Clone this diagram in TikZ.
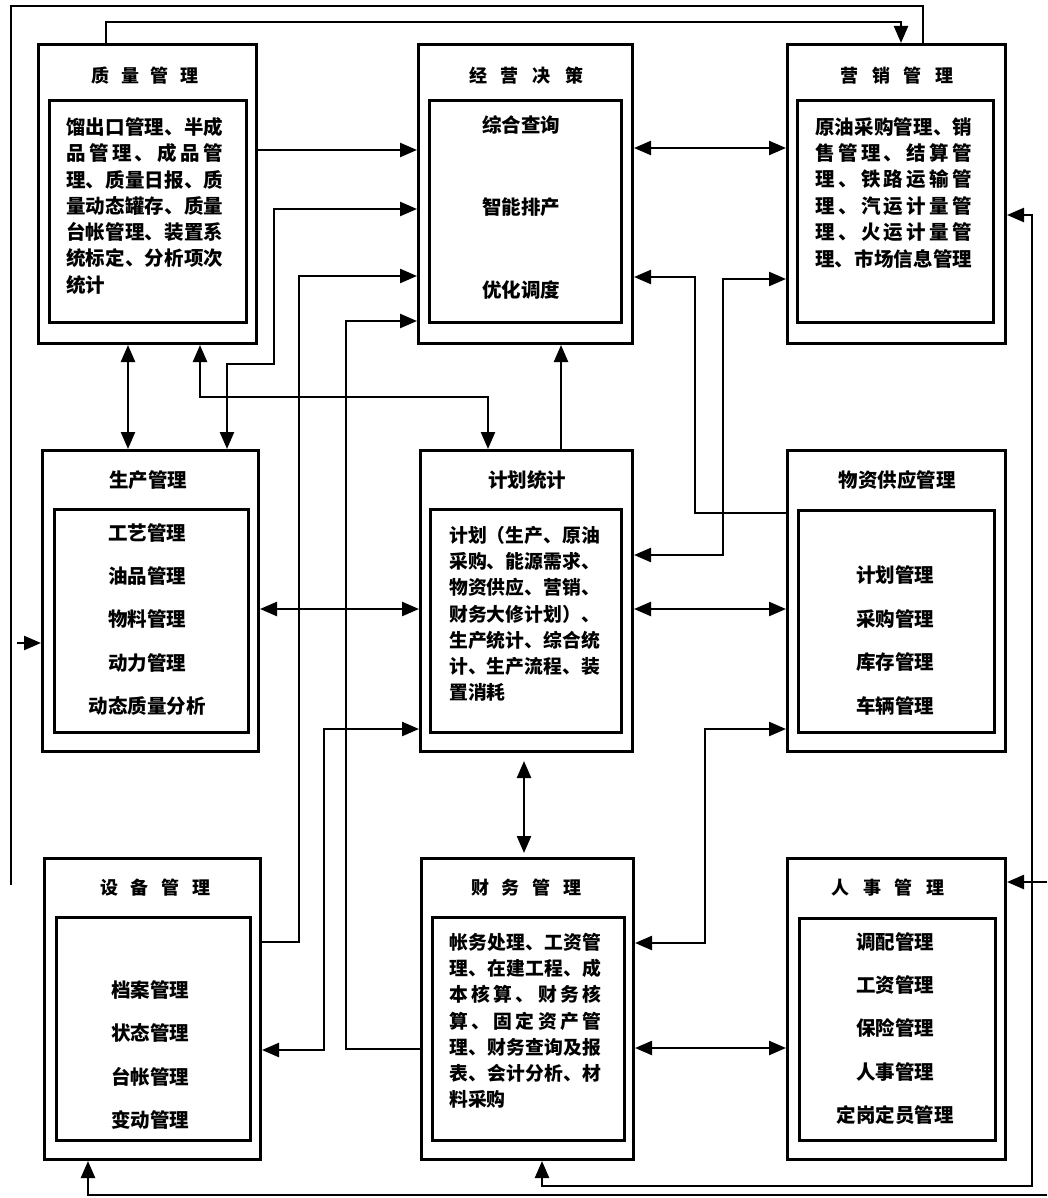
\documentclass[tikz,border=0pt]{standalone}
\usepackage{fontspec}
\setmainfont{Noto Sans CJK SC}
\usetikzlibrary{arrows.meta}
\def\jsp#1{\ifx#1\relax\else#1\hskip0pt plus 1fil\relax\expandafter\jsp\fi}
\newcommand\jl[2]{\makebox[#1][s]{\jsp#2\relax\unskip}}
\begin{document}
\begin{tikzpicture}[x=1pt,y=-1pt,
  obox/.style={draw, line width=3pt, anchor=north west, inner sep=0pt},
  ttl/.style={inner sep=0pt, font=\fontsize{18}{20}\selectfont\bfseries},
  itm/.style={inner sep=0pt, font=\fontsize{19.5}{22}\selectfont\bfseries},
  par/.style={inner sep=0pt, anchor=west, font=\fontsize{19.5}{22}\selectfont\bfseries},
  pars/.style={inner sep=0pt, anchor=west, font=\fontsize{18.8}{22}\selectfont\bfseries},
  conn/.style={line width=2.4pt},
  arr/.style={conn, -{Triangle[length=17pt,width=14pt]}},
  darr/.style={conn, {Triangle[length=17pt,width=14pt]}-{Triangle[length=17pt,width=14pt]}}]
\fill[white] (0,0) rectangle (1047,1198);
\useasboundingbox (0,0) rectangle (1047,1198);
% boxes
\node[obox, minimum width=218pt, minimum height=299pt] (q) at (37,43) {};
\node[obox, minimum width=197pt, minimum height=222pt] (qi) at (48,99) {};
\node[obox, minimum width=214pt, minimum height=299pt] (j) at (417,43) {};
\node[obox, minimum width=192pt, minimum height=222pt] (ji) at (428,99) {};
\node[obox, minimum width=218pt, minimum height=299pt] (m) at (786,43) {};
\node[obox, minimum width=196pt, minimum height=222pt] (mi) at (796,99) {};
\node[obox, minimum width=216pt, minimum height=301pt] (p) at (41,449) {};
\node[obox, minimum width=194pt, minimum height=223pt] (pi) at (53,508) {};
\node[obox, minimum width=212pt, minimum height=301pt] (pl) at (419,449) {};
\node[obox, minimum width=191pt, minimum height=223pt] (pli) at (429,508) {};
\node[obox, minimum width=218pt, minimum height=301pt] (s) at (786,449) {};
\node[obox, minimum width=196pt, minimum height=222pt] (si) at (797,509) {};
\node[obox, minimum width=216pt, minimum height=301pt] (e) at (43,857) {};
\node[obox, minimum width=194pt, minimum height=223pt] (ei) at (55,916) {};
\node[obox, minimum width=212pt, minimum height=301pt] (f) at (420,857) {};
\node[obox, minimum width=192pt, minimum height=223pt] (fi) at (431,916) {};
\node[obox, minimum width=218pt, minimum height=301pt] (h) at (786,857) {};
\node[obox, minimum width=196pt, minimum height=222pt] (hi) at (798,917) {};
% titles
\node[ttl] (qt) at (145,76) {\jl{107pt}{质量管理}};
\node[ttl] (jt) at (526,76) {\jl{114pt}{经营决策}};
\node[ttl] (mt) at (897,76) {\jl{113pt}{营销管理}};
\node[itm] (pt) at (148,480) {生产管理};
\node[itm] (plt) at (527,480) {计划统计};
\node[itm] (st) at (897,480) {物资供应管理};
\node[ttl] (et) at (155,888) {\jl{110pt}{设备管理}};
\node[ttl] (ft) at (526,888) {\jl{110pt}{财务管理}};
\node[ttl] (ht) at (888,888) {\jl{113pt}{人事管理}};
% quality text
\node[par] (q1) at (66,127) {\jl{157pt}{馏出口管理、半成}};
\node[par] (q2) at (66,153.3) {\jl{157pt}{品管理、成品管}};
\node[par] (q3) at (66,179.6) {\jl{157pt}{理、质量日报、质}};
\node[par] (q4) at (66,205.9) {\jl{157pt}{量动态罐存、质量}};
\node[par] (q5) at (66,232.2) {\jl{157pt}{台帐管理、装置系}};
\node[par] (q6) at (66,258.5) {\jl{157pt}{统标定、分析项次}};
\node[par] (q7) at (66,284.8) {统计};
% decision items
\node[itm] (j1) at (521,125) {综合查询};
\node[itm] (j2) at (521,207) {智能排产};
\node[itm] (j3) at (521,290) {优化调度};
% marketing text
\node[par] (m1) at (815,127) {\jl{157pt}{原油采购管理、销}};
\node[par] (m2) at (815,153.3) {\jl{157pt}{售管理、结算管}};
\node[par] (m3) at (815,179.6) {\jl{157pt}{理、铁路运输管}};
\node[par] (m4) at (815,205.9) {\jl{157pt}{理、汽运计量管}};
\node[par] (m5) at (815,232.2) {\jl{157pt}{理、火运计量管}};
\node[par] (m6) at (815,258.5) {\jl{157pt}{理、市场信息管理}};
% production items
\node[itm] (p1) at (147,533) {工艺管理};
\node[itm] (p2) at (147,576) {油品管理};
\node[itm] (p3) at (147,619) {物料管理};
\node[itm] (p4) at (147,663) {动力管理};
\node[itm] (p5) at (147,706) {动态质量分析};
% plan text
\node[pars] (l1) at (449,535) {\jl{151pt}{计划（生产、原油}};
\node[pars] (l2) at (449,561.3) {\jl{151pt}{采购、能源需求、}};
\node[pars] (l3) at (449,587.6) {\jl{151pt}{物资供应、营销、}};
\node[pars] (l4) at (449,613.9) {\jl{151pt}{财务大修计划）、}};
\node[pars] (l5) at (449,640.2) {\jl{151pt}{生产统计、综合统}};
\node[pars] (l6) at (449,666.5) {\jl{151pt}{计、生产流程、装}};
\node[pars] (l7) at (449,692.8) {置消耗};
% supply items
\node[itm] (s1) at (895,575) {计划管理};
\node[itm] (s2) at (895,619) {采购管理};
\node[itm] (s3) at (895,662) {库存管理};
\node[itm] (s4) at (895,706) {车辆管理};
% equipment items
\node[itm] (e1) at (150,990) {档案管理};
\node[itm] (e2) at (150,1033) {状态管理};
\node[itm] (e3) at (150,1077) {台帐管理};
\node[itm] (e4) at (150,1120) {变动管理};
% finance text
\node[pars] (f1) at (449,942) {\jl{152pt}{帐务处理、工资管}};
\node[pars] (f2) at (449,968.3) {\jl{152pt}{理、在建工程、成}};
\node[pars] (f3) at (449,994.6) {\jl{152pt}{本核算、财务核}};
\node[pars] (f4) at (449,1020.9) {\jl{152pt}{算、固定资产管}};
\node[pars] (f5) at (449,1047.2) {\jl{152pt}{理、财务查询及报}};
\node[pars] (f6) at (449,1073.5) {\jl{152pt}{表、会计分析、材}};
\node[pars] (f7) at (449,1099.8) {料采购};
% HR items
\node[itm] (h1) at (895,942) {调配管理};
\node[itm] (h2) at (895,985) {工资管理};
\node[itm] (h3) at (895,1028) {保险管理};
\node[itm] (h4) at (895,1072) {人事管理};
\node[itm] (h5) at (895,1115) {定岗定员管理};
% free ends
\coordinate (Lend) at (11,885);
\coordinate (Lstub) at (17,643);
\coordinate (Rbot) at (1047,1195);
\coordinate (Rhr) at (1047,882);
% connectors
\draw[conn] (m.north -| 923,0) |- (11,6) -- (Lend);
\draw[arr] (Lstub) -- (p.west |- Lstub);
\draw[arr] (q.north -| 106,0) |- (901,22) -- (m.north -| 901,0);
\draw[arr] (q.east |- 0,150) -- (j.west |- 0,150);
\draw[darr] (j.east |- 0,148) -- (m.west |- 0,148);
\draw[darr] (p.north -| 227,0) -- (227,364) -| (274,209) -- (j.west |- 0,209);
\draw[darr] (q.south -| 128,0) -- (p.north -| 128,0);
\draw[darr] (q.south -| 200,0) |- (488,397) -- (pl.north -| 488,0);
\draw[arr] (pl.north -| 561,0) -- (j.south -| 561,0);
\draw[arr] (e.east |- 0,942) -| (299,276) -- (j.west |- 0,276);
\draw[arr] (f.west |- 0,1049) -| (346,321) -- (j.west |- 0,321);
\draw[darr] (pl.west |- 0,729) -| (324,1050) -- (e.east |- 0,1050);
\draw[darr] (p.east |- 0,609) -- (pl.west |- 0,609);
\draw[arr] (s.west |- 0,513) -| (695,277) -- (j.east |- 0,277);
\draw[darr] (m.west |- 0,279) -| (723,555) -- (pl.east |- 0,555);
\draw[darr] (pl.east |- 0,609) -- (s.west |- 0,609);
\draw[darr, shorten <=8pt, shorten >=4pt] (pl.south -| 524,0) -- (f.north -| 524,0);
\draw[darr] (s.west |- 0,729) -| (705,943) -- (f.east |- 0,943);
\draw[darr] (f.east |- 0,1048) -- (h.west |- 0,1048);
\draw[darr] (m.east |- 0,215) -| (1032,1186) -| (f.south -| 542,0);
\draw[arr] (Rbot) -| (e.south -| 88,0);
\draw[arr] (Rhr) -- (h.east |- Rhr);
\end{tikzpicture}
\end{document}
